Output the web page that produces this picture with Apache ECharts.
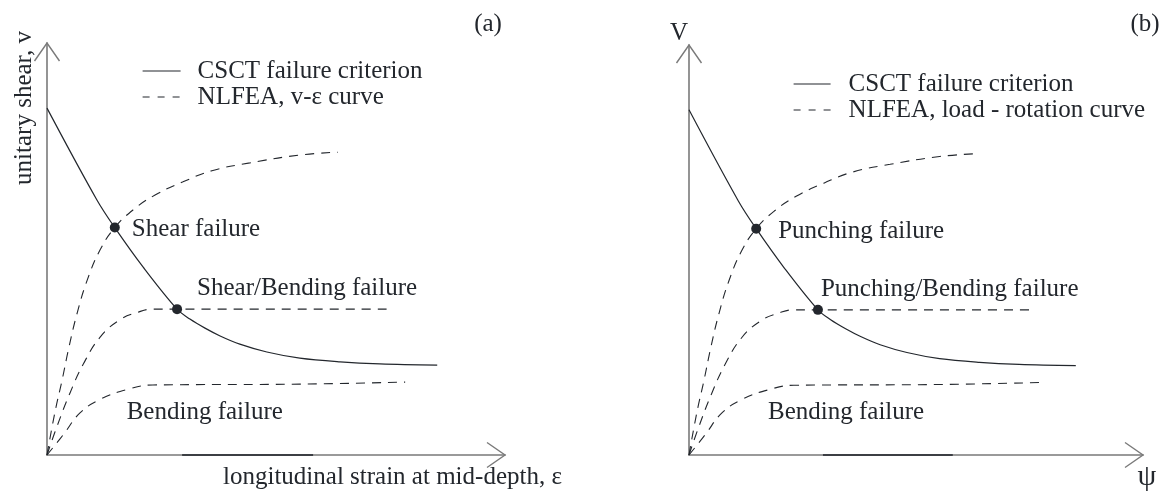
<!DOCTYPE html>
<html>
<head>
<meta charset="utf-8">
<script src="https://cdn.jsdelivr.net/npm/echarts@6/dist/echarts.min.js"></script>
<style>
  html, body { margin: 0; padding: 0; background: #ffffff; }
  #chart { width: 1165px; height: 496px; }
</style>
</head>
<body>
<div id="chart"></div>
<script>
// Normalised units: x = strain / rotation, y = shear / load (both axes 0..10)
const csctCurve = [[0, 8.42], [1.09, 6.19], [1.48, 5.52], [2.10, 4.56], [2.84, 3.54], [3.12, 3.30],
                   [3.45, 3.08], [3.78, 2.89], [4.21, 2.69], [4.80, 2.50], [5.52, 2.35], [6.40, 2.26],
                   [7.27, 2.21], [8.52, 2.18]];
// NLFEA response curves
const nlfeaShear = [[0, 0], [0.17, 1.02], [0.33, 1.82], [0.48, 2.62], [0.66, 3.45], [0.88, 4.25],
                    [1.16, 4.98], [1.48, 5.52], [1.88, 5.95], [2.36, 6.31], [2.97, 6.63],
                    [3.60, 6.90], [4.43, 7.09], [5.52, 7.28], [6.35, 7.35]];
const nlfeaShearBending = [[0, 0], [0.22, 0.70], [0.50, 1.50], [0.79, 2.20], [1.16, 2.86], [1.59, 3.28],
                           [1.97, 3.46], [2.31, 3.54], [2.84, 3.54], [7.53, 3.54]];
const nlfeaBending = [[0, 0], [0.36, 0.50], [0.72, 1.02], [1.16, 1.35], [1.75, 1.59], [2.31, 1.70],
                      [5.52, 1.72], [7.82, 1.77]];
// Failure points: where the response curves meet the criterion
const failurePoints = [[1.48, 5.52], [2.84, 3.54]];
const bendingLabelAnchor = [1.74, 1.03];

const panelTags = ['(a)', '(b)'];
const criterionName = 'CSCT failure criterion';
const responseNames = ['NLFEA, v-\u03b5 curve', 'NLFEA, load - rotation curve'];
const failureLabels = [['Shear failure', 'Shear/Bending failure'], ['Punching failure', 'Punching/Bending failure']];
const bendingLabel = 'Bending failure';
const xTitles = ['longitudinal strain at mid-depth, \u03b5', '\u03c8'];
const yTitles = ['unitary shear, v', 'V'];

const AXIS_MAX = 10;
const FONT = '"Liberation Serif", "Times New Roman", serif';
const INK = '#23272d';
const AXIS_GRAY = '#7a7a7a';
const DOT = 10;

// label offsets (pixels from the marker centre) for the two failure points of each panel
const labelOffsets = [
  [[17, 2], [20, -21]],
  [[22, 3], [3, -20]]
];

const chart = echarts.init(document.getElementById('chart'), null, { renderer: 'canvas' });

const grids = [
  { left: 47, top: 43, width: 458, height: 412 },
  { left: 689, top: 45, width: 454, height: 410 }
];

function axisCommon() {
  return {
    type: 'value', min: 0, max: AXIS_MAX,
    axisLine: { show: true, onZero: false, lineStyle: { color: AXIS_GRAY, width: 1.6 } },
    axisTick: { show: false }, axisLabel: { show: false }, splitLine: { show: false }
  };
}

const series = [];
[0, 1].forEach(function (p) {
  const base = { xAxisIndex: p, yAxisIndex: p, symbol: 'none', silent: true, animation: false, color: INK };
  series.push(Object.assign({}, base, {
    type: 'line', name: criterionName, data: csctCurve, smooth: 0.35, z: 3,
    itemStyle: { color: INK },
    lineStyle: { color: INK, width: 1.2, type: 'solid' }
  }));
  [nlfeaShear, nlfeaShearBending, nlfeaBending].forEach(function (curve) {
    series.push(Object.assign({}, base, {
      type: 'line', name: responseNames[p], data: curve, smooth: 0.45, z: 2,
      itemStyle: { color: INK },
      lineStyle: { color: INK, width: 1.1, type: [9, 7] }
    }));
  });
  series.push({
    type: 'scatter', xAxisIndex: p, yAxisIndex: p, silent: true, animation: false, z: 5,
    symbol: 'circle', symbolSize: DOT, itemStyle: { color: INK, opacity: 1 },
    data: failurePoints.map(function (pt, i) {
      return {
        value: pt,
        label: {
          show: true, position: 'right', distance: 0,
          offset: [labelOffsets[p][i][0] - DOT / 2, labelOffsets[p][i][1]],
          formatter: failureLabels[p][i],
          fontFamily: FONT, fontSize: 25, color: INK
        }
      };
    })
  });
});

function legendFor(p, left, top, textPad) {
  return {
    show: true, orient: 'vertical', left: left, top: top, padding: 0,
    itemWidth: p === 0 ? 38 : 37, itemHeight: 12, itemGap: 0, selectedMode: false,
    itemStyle: { opacity: 0 },
    textStyle: { fontFamily: FONT, fontSize: 25, color: INK, lineHeight: 26, padding: [0, 0, 0, textPad] },
    data: [
      { name: criterionName, itemStyle: { opacity: 0 }, lineStyle: { type: 'solid', width: 1.2, color: INK } },
      { name: responseNames[p], itemStyle: { opacity: 0 }, lineStyle: { type: [7, 8], width: 1.1, color: INK } }
    ]
  };
}

chart.setOption({
  animation: false,
  backgroundColor: '#ffffff',
  grid: grids,
  xAxis: [Object.assign(axisCommon(), { gridIndex: 0 }), Object.assign(axisCommon(), { gridIndex: 1 })],
  yAxis: [Object.assign(axisCommon(), { gridIndex: 0 }), Object.assign(axisCommon(), { gridIndex: 1 })],
  legend: [legendFor(0, 142, 58, 12), legendFor(1, 793, 71, 13)],
  series: series
});

// Decorations placed through the axes' own scales
const graphics = [];
function px(p, pt) { return chart.convertToPixel({ xAxisIndex: p, yAxisIndex: p }, pt); }
function txt(x, y, s, opts) {
  graphics.push({
    type: 'text', x: x, y: y, silent: true,
    style: Object.assign({ text: s, fill: INK, font: '25px ' + FONT, textAlign: 'left', textVerticalAlign: 'middle' }, opts || {})
  });
}
const WING = 18, HALF = 12.5;
[0, 1].forEach(function (p) {
  const xt = px(p, [AXIS_MAX, 0]);
  const yt = px(p, [0, AXIS_MAX]);
  // open arrowheads on both axes
  graphics.push({ type: 'polyline', silent: true,
    shape: { points: [[xt[0] - WING, xt[1] - HALF], xt, [xt[0] - WING, xt[1] + HALF]] },
    style: { stroke: AXIS_GRAY, lineWidth: 1.4, fill: null } });
  graphics.push({ type: 'polyline', silent: true,
    shape: { points: [[yt[0] - HALF, yt[1] + WING], yt, [yt[0] + HALF, yt[1] + WING]] },
    style: { stroke: AXIS_GRAY, lineWidth: 1.4, fill: null } });
  // darker stretch along the horizontal axis
  const d0 = px(p, [2.95, 0]), d1 = px(p, [5.81, 0]);
  graphics.push({ type: 'line', silent: true, z: 10,
    shape: { x1: d0[0], y1: d0[1], x2: d1[0], y2: d1[1] },
    style: { stroke: '#3c3f44', lineWidth: 1.8 } });
  // bending-failure note
  const b = px(p, bendingLabelAnchor);
  txt(b[0], b[1], bendingLabel);
});
// panel tags
txt(488, 24, panelTags[0], { textAlign: 'center' });
txt(1145, 24, panelTags[1], { textAlign: 'center' });
// axis titles
txt(223, 477, xTitles[0]);
txt(1147, 477, xTitles[1], { textAlign: 'center', font: '30px ' + FONT });
txt(679, 33, yTitles[1], { textAlign: 'center' });
graphics.push({
  type: 'text', x: 24, y: 108, rotation: Math.PI / 2, silent: true,
  style: { text: yTitles[0], fill: INK, font: '25px ' + FONT, textAlign: 'center', textVerticalAlign: 'middle' }
});

chart.setOption({ graphic: graphics });
</script>
</body>
</html>
